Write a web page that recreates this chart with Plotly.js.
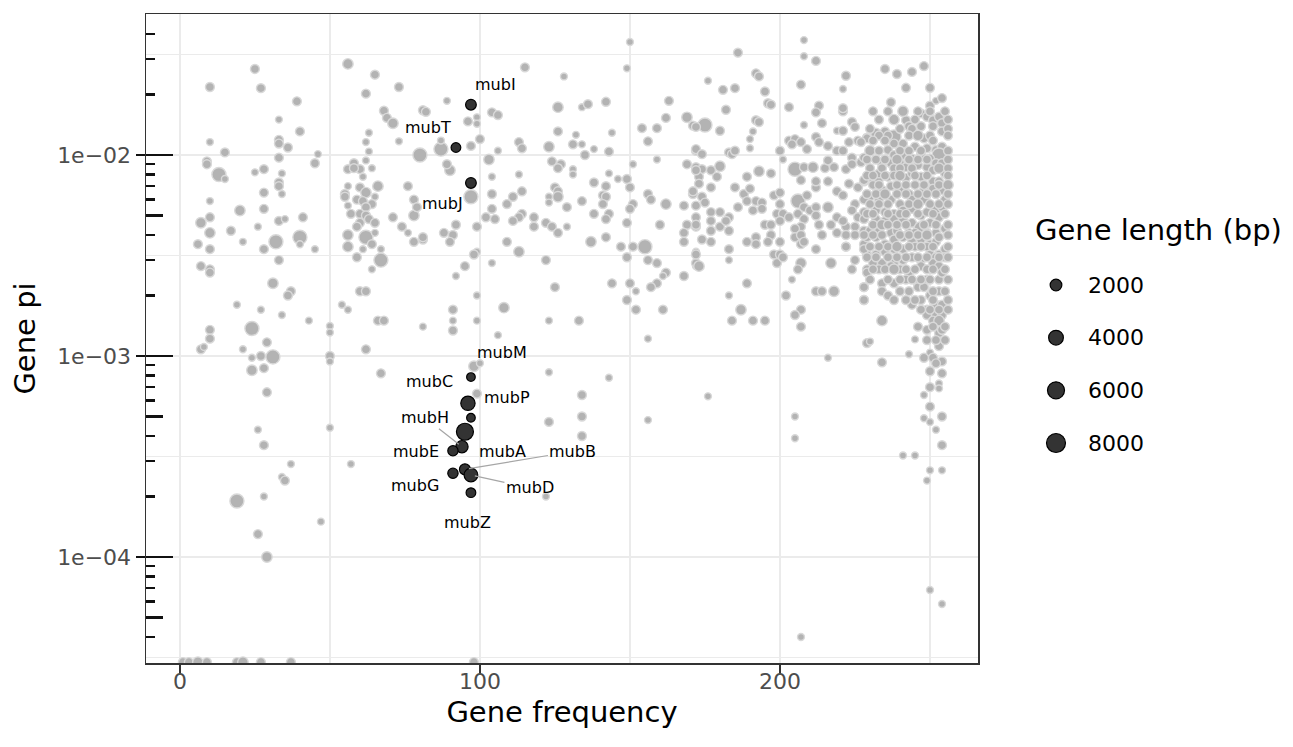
<!DOCTYPE html>
<html><head><meta charset="utf-8">
<script src="https://cdn.plot.ly/plotly-3.0.1.min.js"></script>
<style>html,body{margin:0;padding:0;background:#fff}#chart{width:1293px;height:747px}</style>
</head><body><div id="chart"></div>
<script>
const S=300, N=800, M=1400, B=3500;

// ---- grey genes: region A (low frequency) ----
const freqA=[25,10,27,39,56,65,62,73,68,69,
71,81,33,40,63,62,73,10,33,33,
36,15,33,46,45,63,80,9,9,13,
15,25,28,34,33,33,34,28,10,20,
28,10,7,10,17,26,33,35,41,40,
40,32,28,21,6,10,45,7,10,10,
33,31,37,36,19,27,34,43,24,10,
10,29,50,50,58,60,56,58,62,64,
61,56,55,55,60,62,66,65,59,61,
64,62,56,57,60,62,63,65,60,59,
56,56,62,64,65,61,67,67,64,59,
60,62,54,56,66,68,71,74,76,78,
76,78,78,79,81,81,7,8,21,24,
27,31,24,28,29,50,50,62,67,26,
28,50,37,34,35,57,19,28,47,26,
29,1,3,6,9,19,21,27,37,98];
const piA=[.0268,.0218,.0215,.0185,.0284,.0251,.0202,.0218,.0166,.0153,
.0144,.0167,.0150,.0131,.0129,.0116,.0117,.0116,.0119,.0114,
.0109,.0103,.0097,.0101,.0091,.0104,.0100,.0093,.0090,.0080,
.0076,.0082,.0085,.0081,.0073,.0070,.0064,.0065,.0059,.0053,
.0054,.0049,.0046,.0041,.0042,.0044,.0047,.0048,.0049,.0039,
.0036,.0037,.0034,.0037,.0036,.0034,.0034,.0028,.0027,.0026,
.0030,.0023,.0021,.0020,.0018,.0017,.0016,.0015,.00137,.00135,
.00122,.00117,.00141,.00131,.0091,.0085,.0085,.0086,.0094,.0086,
.0078,.0070,.0064,.0062,.0069,.0065,.0070,.0062,.0060,.0059,
.0057,.0055,.0056,.0051,.0051,.0050,.0048,.0046,.0046,.0044,
.0040,.0035,.0039,.0036,.0041,.0034,.0034,.0030,.0027,.0031,
.0021,.0021,.0018,.0017,.0015,.0015,.0049,.0044,.0041,.0037,
.0070,.0060,.0050,.0055,.0014,.0038,.00108,.00111,.00108,.00098,
.00100,.00099,.00085,.00087,.00066,.00100,.00094,.00108,.00082,.00043,
.00036,.00044,.00029,.00025,.00024,.00029,.00019,.00020,.00015,.00013,
.00010,.00003,.00003,.00003,.00003,.00003,.00003,.00003,.00003,.00003];
const lenA=[N,N,N,N,M,N,N,N,N,N,
M,N,S,N,S,S,S,S,N,N,
N,N,N,S,N,S,B,N,N,B,
S,S,N,S,N,N,S,N,S,M,
N,N,M,M,N,S,N,S,N,B,
S,B,N,S,N,N,S,N,N,N,
N,M,N,N,S,S,S,S,B,N,
N,N,S,S,N,N,N,N,S,S,
S,S,N,N,N,M,M,S,N,N,
N,N,S,N,N,N,N,N,N,N,
M,M,B,N,S,S,S,B,S,N,
N,N,S,S,N,N,N,N,S,N,
N,N,M,N,S,N,N,S,S,S,
N,B,M,N,N,N,S,N,N,S,
N,S,S,S,N,S,B,S,S,N,
M,N,N,M,N,N,M,N,N,N];

// ---- region B (middle) ----
const freqB=[150,115,128,149,89,82,104,106,126,134,
136,142,163,162,169,171,154,159,156,144,
126,132,131,134,96,99,99,100,97,113,
114,123,135,138,143,106,103,87,87,90,
89,124,127,126,131,131,113,104,138,143,
146,149,150,151,159,142,141,142,141,138,
143,142,125,126,123,126,123,129,134,114,
114,113,111,109,104,104,102,105,97,111,
118,118,122,124,126,129,99,92,88,91,
81,90,151,150,149,156,157,162,160,168,
171,169,168,168,172,172,169,172,137,142,
147,151,155,113,109,122,99,98,95,92,
104,149,156,159,162,161,159,157,152,149,
150,144,168,172,125,99,91,91,91,108,
99,123,133,152,161,106,156,172,172,98,
100,99,123,143,134,123,134,134,176,156,
122];
const piB=[.0365,.0273,.0246,.0270,.0186,.0164,.0163,.0158,.0173,.0173,
.0179,.0184,.0186,.0153,.0154,.0140,.0136,.0136,.0117,.0129,
.0131,.0126,.0113,.0113,.0147,.0154,.0143,.0120,.0111,.0116,
.0108,.0110,.0100,.0107,.0104,.0105,.0095,.0107,.0118,.0084,
.0090,.0093,.0090,.0086,.0085,.0080,.0080,.0078,.0073,.0081,
.0076,.0076,.0069,.0090,.0095,.0070,.0063,.0062,.0057,.0051,
.0051,.0048,.0069,.0066,.0062,.0062,.0058,.0055,.0059,.0066,
.0051,.0049,.0062,.0057,.0064,.0054,.0049,.0048,.0062,.0047,
.0049,.0044,.0046,.0044,.0041,.0044,.0044,.0045,.0041,.0040,
.0039,.0037,.0057,.0054,.0046,.0064,.0060,.0057,.0045,.0056,
.0064,.0045,.0041,.0037,.0044,.0105,.0090,.0087,.0037,.0039,
.0035,.0035,.0035,.0033,.0037,.0030,.0033,.0032,.0028,.0025,
.0029,.0031,.0030,.0029,.0026,.0025,.0023,.0022,.0021,.0019,
.0023,.0023,.0025,.0028,.0022,.0020,.0017,.0015,.00134,.00174,
.0015,.0015,.0015,.0017,.0017,.00127,.00122,.0033,.0029,.00089,
.00092,.00065,.00083,.00078,.00064,.00047,.00050,.00040,.00063,.00048,
.00020];
const lenB=[S,N,S,S,S,N,N,N,M,S,
N,N,N,N,M,N,N,N,N,S,
N,S,N,S,N,S,S,N,N,N,
N,M,N,S,N,S,M,B,S,M,
N,N,N,N,S,S,S,S,N,S,
S,N,N,S,S,N,N,N,N,N,
N,N,N,N,S,M,S,N,N,N,
N,N,N,N,N,N,N,N,B,N,
N,N,N,N,N,S,N,N,N,N,
N,N,N,N,N,N,N,M,N,N,
N,N,N,N,N,N,N,N,M,N,
N,N,B,M,N,N,S,N,N,S,
S,N,N,N,N,S,N,N,S,N,
N,N,N,S,N,S,N,S,N,M,
S,S,N,N,N,S,S,S,N,M,
S,N,S,S,N,N,N,N,S,S,
S];

// ---- region C (170-230) ----
const freqC=[208,208,212,186,176,192,193,181,185,195,
207,222,221,182,196,197,203,213,212,221,
221,175,172,180,192,193,191,190,190,208,
214,212,213,219,221,224,225,203,205,207,
204,209,216,219,221,223,226,229,172,174,
183,184,185,200,201,224,227,228,180,177,
174,173,172,205,208,211,207,215,218,216,
222,224,193,197,189,179,177,173,171,174,
172,175,185,188,190,192,194,189,186,191,
194,198,200,200,199,201,200,203,206,206,
209,208,210,212,212,208,207,205,205,207,
207,208,213,214,217,216,219,219,212,212,
216,219,221,223,226,228,229,225,224,226,
228,225,222,221,222,225,228,228,229,222,
225,224,229,228,228,177,177,180,177,177,
174,180,183,183,182,172,172,189,192,192,
197,196,200,198,200,199,201,195,197,183,
183,173,172,212,207,206,204,217,222,189,
202,212,214,218,183,187,184,191,195,207,
205,207,229,216,205,205,207];
const piC=[.0373,.0310,.0294,.0323,.0234,.0255,.0246,.0211,.0215,.0207,
.0224,.0248,.0213,.0168,.0181,.0178,.0173,.0176,.0163,.0165,
.0171,.0141,.0138,.0132,.0149,.0146,.0131,.0120,.0108,.0141,
.0144,.0123,.0116,.0132,.0132,.0146,.0138,.0118,.0120,.0116,
.0113,.0107,.0111,.0105,.0105,.0116,.0118,.0122,.0107,.0101,
.0103,.0101,.0105,.0105,.0095,.0097,.0092,.0097,.0088,.0084,
.0085,.0078,.0084,.0085,.0087,.0087,.0075,.0086,.0087,.0094,
.0085,.0090,.0083,.0081,.0078,.0078,.0069,.0072,.0066,.0062,
.0056,.0058,.0069,.0064,.0068,.0059,.0058,.0059,.0055,.0053,
.0054,.0063,.0065,.0057,.0051,.0051,.0047,.0049,.0051,.0059,
.0063,.0055,.0053,.0055,.0050,.0048,.0044,.0043,.0039,.0040,
.0036,.0037,.0045,.0040,.0045,.0055,.0049,.0041,.0069,.0074,
.0074,.0066,.0063,.0072,.0069,.0074,.0060,.0057,.0053,.0049,
.0052,.0044,.0044,.0047,.0040,.0040,.0042,.0036,.0032,.0035,
.0030,.0027,.0027,.0022,.0019,.0052,.0047,.0052,.0042,.0037,
.0038,.0044,.0049,.0042,.0047,.0049,.0045,.0037,.0039,.0036,
.0040,.0037,.0037,.0032,.0032,.0029,.0031,.0045,.0045,.0034,
.0030,.0028,.0032,.0034,.0029,.0027,.0024,.0029,.0035,.0023,
.0020,.0021,.0021,.0021,.0020,.0017,.0015,.0015,.0015,.0017,
.0016,.0014,.00116,.00098,.00050,.00039,.000040];
const lenC=[S,S,N,N,S,N,N,N,N,N,
N,N,S,N,N,N,N,N,N,N,
N,B,N,N,N,N,S,S,S,S,
N,N,N,S,N,N,N,N,N,N,
N,N,N,N,N,N,N,N,N,N,
N,N,N,N,S,N,N,N,M,N,
N,N,N,B,N,M,N,N,N,N,
N,N,M,N,N,N,N,N,N,N,
N,N,N,N,N,N,N,N,N,N,
N,N,N,N,N,N,N,N,N,B,
N,N,N,N,N,N,N,N,N,N,
N,N,N,N,N,M,N,N,N,N,
N,N,N,N,N,N,N,N,N,N,
N,N,N,N,N,N,N,N,N,N,
N,N,N,N,N,N,N,N,N,N,
N,N,N,N,N,N,N,N,N,N,
N,N,N,N,N,N,N,N,N,N,
S,M,N,N,M,N,S,M,N,N,
N,N,N,M,S,M,N,N,N,N,
N,N,N,S,S,S,S];

// ---- region D (core genes, 228-256) ----
const freqD=[237,250,252,242,243,247,249,251,253,254,
247,251,254,232,235,238,229,227,238,241,
245,248,249,252,254,253,236,238,241,244,
247,250,252,254,234,237,240,242,246,249,
251,255,228,232,230,228,233,236,239,242,
244,247,251,253,234,237,240,243,248,251,
254,255,233,237,240,244,248,251,254,253,
232,235,238,241,244,247,249,228,232,235,
238,241,244,247,250,230,233,237,239,243,
245,249,252,255,229,232,235,238,241,244,
247,250,252,253,228,232,235,238,241,245,
249,253,255,231,234,238,241,244,247,250,
252,255,229,233,237,240,243,247,251,253,
234,238,242,246,249,253,254,228,228,234,
236,246,248,250,253,244,247,249,252,254,
252,254,249,251,253,249,253,254,253,234,
230,245,243,248,234,249,250,251,254,252,
250,254,253,253,250,248,250,248,250,252,
254,254,241,245,250,254,249,250,254,235,
239,244,248,250,254,242];
const piD=[.0183,.0176,.0186,.0149,.0139,.0161,.0155,.0149,.0155,.0144,
.0139,.0139,.0131,.0128,.0131,.0123,.0121,.0116,.0114,.0114,
.0110,.0121,.0108,.0106,.0110,.0100,.0106,.0100,.0100,.0096,
.0100,.0096,.0091,.0091,.0091,.0091,.0091,.0087,.0089,.0087,
.0084,.0081,.0075,.0075,.0062,.0060,.0081,.0078,.0083,.0077,
.0081,.0078,.0074,.0074,.0067,.0070,.0067,.0064,.0067,.0068,
.0067,.0060,.0060,.0060,.0057,.0060,.0060,.0053,.0055,.0049,
.0053,.0052,.0051,.0053,.0054,.0050,.0052,.0048,.0048,.0047,
.0048,.0048,.0046,.0043,.0046,.0042,.0042,.0041,.0042,.0041,
.0041,.0041,.0041,.0043,.0039,.0039,.0036,.0038,.0039,.0037,
.0038,.0036,.0037,.0039,.0034,.0032,.0033,.0034,.0034,.0035,
.0035,.0032,.0034,.0029,.0029,.0029,.0030,.0031,.0030,.0032,
.0031,.0031,.0026,.0027,.0028,.0027,.0026,.0028,.0029,.0028,
.0023,.0023,.0024,.0023,.0024,.0024,.0026,.0022,.0019,.0021,
.0020,.0022,.0022,.0020,.0021,.0018,.0019,.0017,.0018,.0018,
.0016,.0016,.0016,.0015,.0015,.00135,.0013,.00135,.00112,.0015,
.00118,.00121,.00102,.00098,.00093,.00120,.00104,.00098,.00094,.00092,
.00084,.00082,.00073,.00069,.00070,.00064,.00056,.00049,.00047,.00043,
.00050,.00036,.00032,.00032,.00027,.00027,.00024,.0000685,.0000584,.0268,
.0253,.0259,.0277,.0216,.0192,.0216];
const lenD=[N,N,S,N,N,N,N,N,N,N,
N,N,N,M,N,B,N,N,N,N,
N,N,N,N,N,B,N,N,N,N,
N,N,N,N,N,N,N,N,N,N,
N,N,N,B,N,N,N,N,N,N,
N,N,N,N,N,N,N,N,N,N,
N,N,N,N,N,N,N,B,N,N,
N,N,N,N,N,N,N,N,N,N,
N,N,N,B,N,N,N,N,N,N,
N,N,N,N,N,N,N,N,N,N,
N,N,N,N,N,N,N,N,N,N,
N,N,N,N,N,N,N,N,N,N,
N,N,N,N,N,N,N,N,N,N,
N,N,N,N,N,N,N,N,N,N,
N,N,N,N,N,N,N,N,N,N,
N,N,N,N,M,N,N,N,N,M,
S,S,S,N,N,N,S,N,N,N,
N,N,S,S,N,S,N,S,S,S,
N,N,S,S,S,S,S,S,S,N,
N,N,N,N,N,N];

// ---- region E (remaining genes in the dense core block) ----
const freqE=[231,236,241,246,250,255,
233,238,245,256,
230,240,244,256,
233,236,243,246,250,256,
231,235,251,
230,233,240,243,247,256,
229,232,235,239,243,246,249,256,
230,234,238,240,244,253,256,
229,231,235,238,240,245,249,256,
231,233,239,242,245,248,253,256,
229,232,235,239,242,246,249,252,256,
230,233,236,243,246,250,253,256,
229,231,236,240,242,246,251,255,
231,234,236,239,242,248,252,256,
228,231,234,240,243,246,249,256,
230,233,236,239,243,247,251,256,
229,232,236,239,242,246,249,253,256,
231,235,238,242,245,249,251,255,
230,236,240,244,247,250,256,
240,243,251,255,
238,242,245,251,256,
247,250,253,256,
246,251,255,
252,255];
const piE=[.0165,.0165,.0165,.0165,.0165,.0165,
.0150,.0150,.0150,.0150,
.0135,.0135,.0135,.0135,
.0125,.0125,.0125,.0125,.0125,.0125,
.0118,.0118,.0118,
.0105,.0105,.0105,.0105,.0105,.0105,
.0095,.0095,.0095,.0095,.0095,.0095,.0095,.0095,
.0086,.0086,.0086,.0086,.0086,.0086,.0086,
.0079,.0079,.0079,.0079,.0079,.0079,.0079,.0079,
.0071,.0071,.0071,.0071,.0071,.0071,.0071,.0071,
.0064,.0064,.0064,.0064,.0064,.0064,.0064,.0064,.0064,
.0057,.0057,.0057,.0057,.0057,.0057,.0057,.0057,
.0051,.0051,.0051,.0051,.0051,.0051,.0051,.0051,
.0045,.0045,.0045,.0045,.0045,.0045,.0045,.0045,
.0040,.0040,.0040,.0040,.0040,.0040,.0040,.0040,
.0035,.0035,.0035,.0035,.0035,.0035,.0035,.0035,
.0031,.0031,.0031,.0031,.0031,.0031,.0031,.0031,.0031,
.0027,.0027,.0027,.0027,.0027,.0027,.0027,.0027,
.0024,.0024,.0024,.0024,.0024,.0024,.0024,
.0021,.0021,.0021,.0021,
.0019,.0019,.0019,.0019,.0019,
.0017,.0017,.0017,.0017,
.0014,.0014,.0014,
.0012,.0012];
const lenE=[N,N,M,N,N,N,
N,M,N,N,
N,N,N,N,
N,N,N,M,N,N,
N,N,N,
M,N,N,N,N,N,
N,N,N,M,N,N,N,N,
N,N,N,N,N,M,N,
N,N,N,N,M,N,N,N,
N,N,N,N,N,N,N,M,
N,N,M,N,N,N,N,N,N,
N,N,N,N,M,N,N,N,
N,N,N,N,N,N,N,N,
N,M,N,N,N,N,N,N,
N,N,N,N,N,N,M,N,
N,N,N,M,N,N,N,N,
N,N,N,N,N,N,N,N,N,
N,N,M,N,N,N,N,N,
N,N,N,N,N,N,N,
N,N,N,N,
N,N,N,N,N,
N,N,N,N,
N,N,N,
N,N];

// ---- highlighted mub genes ----
const mubLabels=['mubI','mubT','mubJ','mubC','mubP','mubM','mubA','mubH','mubE','mubG','mubB','mubD','mubZ'];
const mubFreq=[97,92,97,97,96,97,95,94,91,91,95,97,97];
const mubPi=[0.0178,0.0109,0.00726,0.000786,0.000582,0.000493,0.000420,0.000354,0.000338,0.000261,0.000273,0.000256,0.000209];
const mubLen=[1500,1070,1500,700,3670,700,5950,2340,1320,1320,1640,3240,1070];

// ---- legend breaks and axis ticks ----
const sizeBreaks=[2000,4000,6000,8000];
const xTicks=[0,100,200];
const xMinorTicks=[50,150,250];
const yTicks=[1e-4,1e-3,1e-2];
const yTickText=['1e\u221204','1e\u221203','1e\u221202'];

// label placement (pixel offsets from each point) and segment flags
const labelDX=[25,-28,-28,-41,39,31,38,-37,-37,-38,108,59,-3];
const labelDY=[-20,-20,21,4,-6,-65,20,-29,1,12,-18,13,30];
const labelSegment=[false,false,false,false,false,false,false,true,false,false,true,true,false];

[['A',freqA,piA,lenA],['B',freqB,piB,lenB],['C',freqC,piC,lenC],['D',freqD,piD,lenD],['E',freqE,piE,lenE]].forEach(function(r){
  if(r[1].length!==r[2].length||r[1].length!==r[3].length) throw new Error('length mismatch '+r[0]+' '+r[1].length+' '+r[2].length+' '+r[3].length);
});

const FONT='"DejaVu Sans", Verdana, sans-serif';
// ggplot-like area scale: diameter grows with sqrt(length)
function sizeFor(len){ return 5.68 + 0.161*Math.sqrt(Math.max(len-100,0)) - 1; }

const grayFreq=[].concat(freqA,freqB,freqC,freqD,freqE);
const grayPi=[].concat(piA,piB,piC,piD,piE);
const grayLen=[].concat(lenA,lenB,lenC,lenD,lenE);

const traces=[];
traces.push({type:'scatter',mode:'markers',x:grayFreq,y:grayPi,showlegend:false,hoverinfo:'skip',
  marker:{size:grayLen.map(sizeFor),opacity:1,color:'#b3b3b3',line:{color:'#d9d9d9',width:1.4}}});
traces.push({type:'scatter',mode:'markers',x:mubFreq,y:mubPi,showlegend:false,hoverinfo:'skip',
  marker:{size:mubLen.map(sizeFor),opacity:1,color:'#333333',line:{color:'#000000',width:1.2}}});
// size legend drawn as its own small panel
traces.push({type:'scatter',mode:'markers',x:sizeBreaks.map(function(){return 0.5;}),y:sizeBreaks.map(function(v,i){return i;}),
  xaxis:'x3',yaxis:'y6',showlegend:false,hoverinfo:'skip',cliponaxis:false,
  marker:{size:sizeBreaks.map(sizeFor),opacity:1,color:'#333333',line:{color:'#000000',width:1.2}}});
// empty carriers so the helper axes (minor grid, tick labels, log ticks) are built
[['x2','y'],['x4','y'],['x','y2'],['x','y3'],['x','y4'],['x','y5']].forEach(function(p){
  traces.push({type:'scatter',mode:'markers',x:[null],y:[null],xaxis:p[0],yaxis:p[1],showlegend:false,hoverinfo:'skip'});
});

// annotation_logticks style ticks
const tShort=[],tMid=[],tLong=[],yMinorGrid=[];
for(let d=-5; d<=-1; d++){
  [2,3,4,6,7,8,9].forEach(function(m){tShort.push(m*Math.pow(10,d));});
  tMid.push(5*Math.pow(10,d));
  tLong.push(Math.pow(10,d));
  yMinorGrid.push(Math.pow(10,d+0.5));
}

const W=1293, H=747, L=146, T=14, PW=1293-146, PH=747-14-84;
function px2x(p){return (p-L)/PW;}
function px2y(p){return (H-84-p)/PH;}

const xRange=[-11.3,266];
const yRange=[Math.log10(2.97e-5), Math.log10(0.0503)];
const mainDomain=[0, px2x(978)];
function tickAxis(vals,len){
  return {type:'log',range:yRange,autorange:false,overlaying:'y',anchor:'x',side:'left',
    tickmode:'array',tickvals:vals,ticks:'inside',ticklen:len,tickwidth:2.4,tickcolor:'#111111',
    showticklabels:false,showgrid:false,zeroline:false,showline:false};
}

const annotations=mubLabels.map(function(t,i){
  return {x:mubFreq[i],y:Math.log10(mubPi[i]),xref:'x',yref:'y',text:t,showarrow:true,
    ax:labelDX[i],ay:labelDY[i],axref:'pixel',ayref:'pixel',arrowhead:0,arrowwidth:1.2,standoff:4,
    arrowcolor:labelSegment[i]?'#a6a6a6':'rgba(0,0,0,0)',
    font:{family:FONT,size:16,color:'#000000'}};
});
annotations.push({xref:'paper',yref:'paper',x:px2x(1033),y:px2y(230),xanchor:'left',yanchor:'middle',showarrow:false,
  text:'Gene length (bp)',font:{family:FONT,size:29,color:'#000000'}});

const layout={
  width:W,height:H,
  margin:{l:L,r:0,t:T,b:84,pad:0},
  paper_bgcolor:'#ffffff',plot_bgcolor:'#ffffff',
  font:{family:FONT,color:'#000000'},
  showlegend:false,hovermode:false,
  xaxis:{domain:mainDomain,range:xRange,autorange:false,tickmode:'array',tickvals:xTicks,ticks:'outside',ticklen:9,tickwidth:2.4,tickcolor:'#333333',
    showticklabels:false,showgrid:true,gridcolor:'#ebebeb',gridwidth:2,
    zeroline:false,showline:true,mirror:true,linecolor:'#333333',linewidth:1.5,
    title:{text:'Gene frequency',font:{size:29,color:'#000000'},standoff:29}},
  xaxis2:{range:xRange,autorange:false,overlaying:'x',anchor:'y',tickmode:'array',tickvals:xMinorTicks,ticks:'',
    showticklabels:false,showgrid:true,gridcolor:'#ebebeb',gridwidth:1.2,zeroline:false,showline:false},
  xaxis4:{range:xRange,autorange:false,overlaying:'x',anchor:'y',side:'bottom',tickmode:'array',tickvals:xTicks,ticks:'',
    showticklabels:true,tickfont:{size:22,color:'#4d4d4d'},ticklabelstandoff:3,showgrid:false,zeroline:false,showline:false},
  xaxis3:{domain:[px2x(1046),px2x(1066)],range:[0,1],autorange:false,anchor:'y6',visible:false,fixedrange:true},
  yaxis:{type:'log',range:yRange,autorange:false,tickmode:'array',tickvals:yTicks,ticktext:yTickText,
    ticks:'outside',ticklen:9,tickwidth:2.4,tickcolor:'#111111',
    tickfont:{size:22,color:'#4d4d4d'},showgrid:true,gridcolor:'#ebebeb',gridwidth:2,
    zeroline:false,showline:true,mirror:true,linecolor:'#333333',linewidth:1.5,
    title:{text:'Gene pi',font:{size:29,color:'#000000'},standoff:13}},
  yaxis2:tickAxis(tShort,9),
  yaxis3:tickAxis(tMid,17),
  yaxis4:tickAxis(tLong,27),
  yaxis5:{type:'log',range:yRange,autorange:false,overlaying:'y',anchor:'x',side:'left',tickmode:'array',tickvals:yMinorGrid,
    ticks:'',showticklabels:false,showgrid:true,gridcolor:'#ebebeb',gridwidth:1.2,zeroline:false,showline:false},
  yaxis6:{domain:[px2y(469.35),px2y(258.65)],range:[sizeBreaks.length-0.5,-0.5],autorange:false,anchor:'x3',side:'right',
    tickmode:'array',tickvals:sizeBreaks.map(function(v,i){return i;}),ticktext:sizeBreaks.map(String),ticks:'',
    ticklabelstandoff:21,tickfont:{size:22,color:'#000000'},showgrid:false,zeroline:false,showline:false,fixedrange:true},
  annotations:annotations
};

Plotly.newPlot('chart',traces,layout,{staticPlot:true,displayModeBar:false});
</script>
</body></html>
